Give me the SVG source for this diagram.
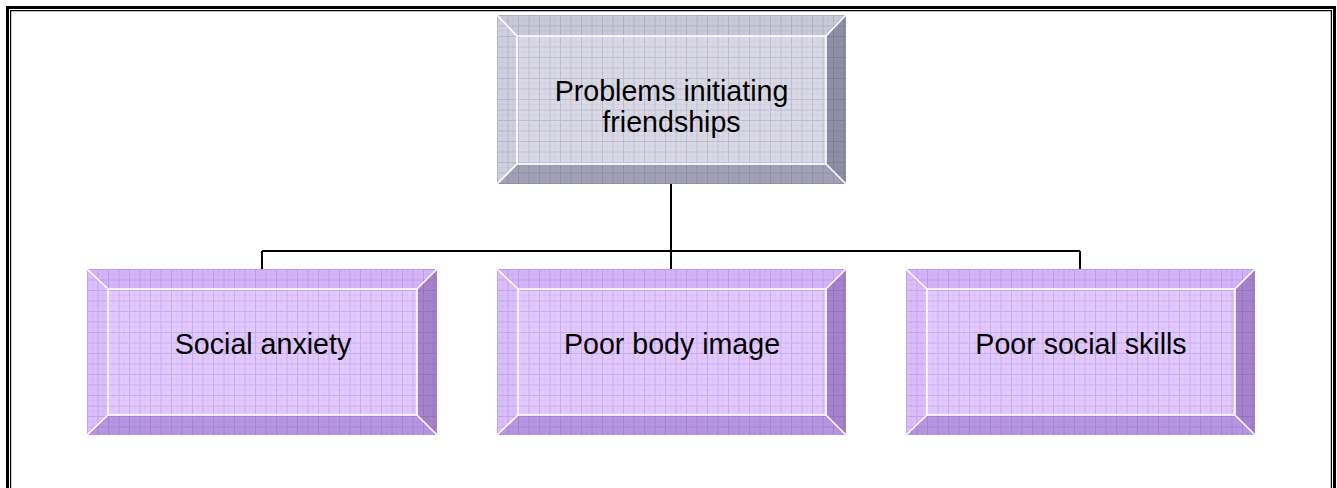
<svg xmlns="http://www.w3.org/2000/svg" width="1337" height="488" viewBox="0 0 1337 488">
  <style>
    .frame-outer { fill: none; stroke: #000; stroke-width: 3; }
    .frame-inner { fill: none; stroke: #000; stroke-width: 1.2; }
    .edge { fill: none; stroke: #fff; stroke-width: 1.6; }
    .grid { fill: url(#grid); }
    .label { font-family: "Liberation Sans", Arial, sans-serif; font-size: 28.6px; fill: #000; text-anchor: middle; }
    .link { fill: none; stroke: #000; stroke-width: 2; }
    /* grey head box */
    .g .face { fill: #dadae6; }
    .g .top { fill: #c9c9d8; }
    .g .left { fill: #d0d0de; }
    .g .right { fill: #8f8fa6; }
    .g .bottom { fill: #a2a2b7; }
    /* lavender boxes */
    .p .face { fill: #e3c9ff; }
    .p .top { fill: #d6b4fb; }
    .p .left { fill: #dcbefd; }
    .p .right { fill: #a584cd; }
    .p .bottom { fill: #b896e2; }
  </style>
  <defs>
    <pattern id="grid" width="10.5" height="10.5" patternUnits="userSpaceOnUse">
      <rect x="0" y="0" width="10.5" height="10.5" fill="none"/>
      <path d="M0 0.5H10.5M0.5 0V10.5" stroke="#3c2a6a" stroke-opacity="0.17" stroke-width="1"/>
      <path d="M0 5.5H10.5M5.5 0V10.5" stroke="#3c2a6a" stroke-opacity="0.06" stroke-width="1"/>
    </pattern>
  </defs>

  <!-- page frame: heavy outer rule with a hairline inside -->
  <path class="frame-outer" d="M7.5 495V7.5H1334.5V495"/>
  <path class="frame-inner" d="M10.6 495V10.6H1331.4V495"/>

  <!-- connectors -->
  <g id="connectors">
    <path class="link" d="M671 184V251"/>
    <path class="link" d="M262 251H1080"/>
    <path class="link" d="M262 251V269"/>
    <path class="link" d="M671 251V269"/>
    <path class="link" d="M1080 251V269"/>
  </g>

  <!-- head box -->
  <g id="node-problems" class="g" transform="translate(497,15)">
    <rect class="face" x="0" y="0" width="349" height="169"/>
    <polygon class="top" points="0,0 349,0 329,21 20,21"/>
    <polygon class="left" points="0,0 20,21 20,149 0,169"/>
    <polygon class="right" points="349,0 349,169 329,149 329,21"/>
    <polygon class="bottom" points="0,169 20,149 329,149 349,169"/>
    <rect class="grid" x="0" y="0" width="349" height="169"/>
    <rect class="edge" x="20" y="21" width="309" height="128"/>
    <path class="edge" d="M0 0L20 21M349 0L329 21M0 169L20 149M349 169L329 149"/>
    <text class="label" x="174.5" y="86">Problems initiating</text>
    <text class="label" x="174.5" y="117">friendships</text>
  </g>

  <g id="node-anxiety" class="p" transform="translate(87,269)">
    <rect class="face" x="0" y="0" width="350" height="166"/>
    <polygon class="top" points="0,0 350,0 330,20 21,20"/>
    <polygon class="left" points="0,0 21,20 21,146 0,166"/>
    <polygon class="right" points="350,0 350,166 330,146 330,20"/>
    <polygon class="bottom" points="0,166 21,146 330,146 350,166"/>
    <rect class="grid" x="0" y="0" width="350" height="166"/>
    <rect class="edge" x="21" y="20" width="309" height="126"/>
    <path class="edge" d="M0 0L21 20M350 0L330 20M0 166L21 146M350 166L330 146"/>
    <text class="label" x="176" y="85">Social anxiety</text>
  </g>

  <g id="node-body-image" class="p" transform="translate(497,269)">
    <rect class="face" x="0" y="0" width="349" height="166"/>
    <polygon class="top" points="0,0 349,0 329,20 21,20"/>
    <polygon class="left" points="0,0 21,20 21,146 0,166"/>
    <polygon class="right" points="349,0 349,166 329,146 329,20"/>
    <polygon class="bottom" points="0,166 21,146 329,146 349,166"/>
    <rect class="grid" x="0" y="0" width="349" height="166"/>
    <rect class="edge" x="21" y="20" width="308" height="126"/>
    <path class="edge" d="M0 0L21 20M349 0L329 20M0 166L21 146M349 166L329 146"/>
    <text class="label" x="175" y="85">Poor body image</text>
  </g>

  <g id="node-social-skills" class="p" transform="translate(906,269)">
    <rect class="face" x="0" y="0" width="349" height="166"/>
    <polygon class="top" points="0,0 349,0 329,20 21,20"/>
    <polygon class="left" points="0,0 21,20 21,146 0,166"/>
    <polygon class="right" points="349,0 349,166 329,146 329,20"/>
    <polygon class="bottom" points="0,166 21,146 329,146 349,166"/>
    <rect class="grid" x="0" y="0" width="349" height="166"/>
    <rect class="edge" x="21" y="20" width="308" height="126"/>
    <path class="edge" d="M0 0L21 20M349 0L329 20M0 166L21 146M349 166L329 146"/>
    <text class="label" x="175" y="85">Poor social skills</text>
  </g>
</svg>
